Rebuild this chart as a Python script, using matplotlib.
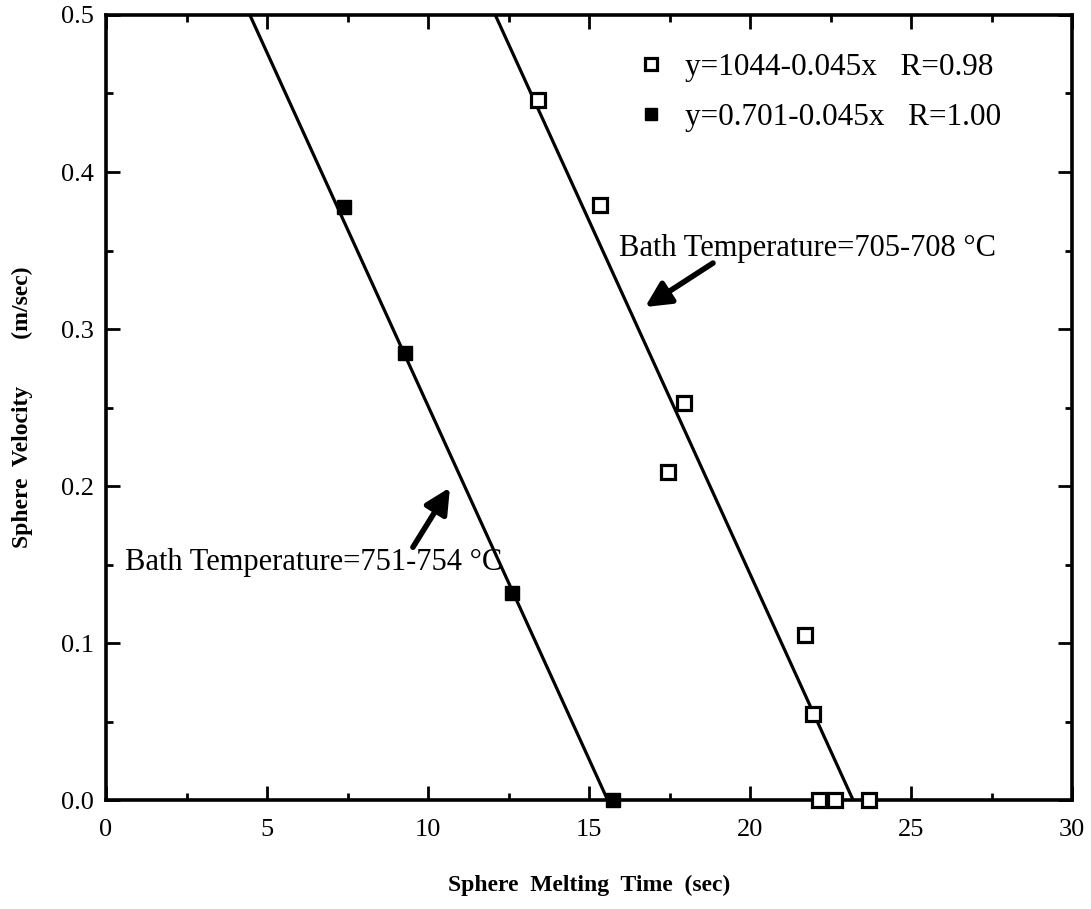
import matplotlib
matplotlib.use('Agg')
import numpy as np
import matplotlib.pyplot as plt
from matplotlib.ticker import MultipleLocator, FormatStrFormatter

# melting runs, bath at 705-708 C (open squares)
open_time = [13.4, 15.35, 17.45, 17.95, 21.7, 21.95, 22.15, 22.65, 23.7]
open_vel = [0.446, 0.379, 0.209, 0.253, 0.105, 0.055, 0.0, 0.0, 0.0]

# melting runs, bath at 751-754 C (filled squares)
filled_time = [7.4, 9.3, 12.6, 15.75]
filled_vel = [0.378, 0.285, 0.132, 0.0]

# linear fits  y = a - b*x
open_fit = (1.044, 0.045)
filled_fit = (0.701, 0.045)

open_label = 'y=1044-0.045x   R=0.98'
filled_label = 'y=0.701-0.045x   R=1.00'

serif = ['Liberation Serif', 'DejaVu Serif']

fig = plt.figure(figsize=(10.91, 9.09), dpi=100)
ax = fig.add_axes([0.0972, 0.1199, 0.8854, 0.8636])


def fit_line(fit):
    a, b = fit
    x = np.array([(a - 0.5) / b, a / b])
    return x, a - b * x


for fit in (filled_fit, open_fit):
    fx, fy = fit_line(fit)
    ax.plot(fx, fy, color='black', lw=2.3, solid_capstyle='butt', zorder=2)

ax.plot(open_time, open_vel, ls='none', marker='s', ms=9.5, mfc='white',
        mec='black', mew=2.3, clip_on=False, zorder=3, label=open_label)
ax.plot(filled_time, filled_vel, ls='none', marker='s', ms=10, mfc='black',
        mec='black', mew=1, clip_on=False, zorder=3, label=filled_label)

ax.set_xlim(0, 30)
ax.set_ylim(0, 0.5)
ax.xaxis.set_major_locator(MultipleLocator(5))
ax.xaxis.set_minor_locator(MultipleLocator(2.5))
ax.yaxis.set_major_locator(MultipleLocator(0.1))
ax.yaxis.set_minor_locator(MultipleLocator(0.05))
ax.yaxis.set_major_formatter(FormatStrFormatter('%.1f'))
ax.tick_params(which='both', direction='in', top=True, right=True, width=2)
ax.tick_params(which='major', length=10)
ax.tick_params(which='minor', length=5)
ax.tick_params(axis='x', which='major', pad=14)
ax.tick_params(axis='y', which='major', pad=9)
for lab in ax.get_xticklabels() + ax.get_yticklabels():
    lab.set_fontfamily(serif)
    lab.set_fontsize(19)
for sp in ax.spines.values():
    sp.set_linewidth(2.6)

ax.set_xlabel('Sphere  Melting  Time  (sec)', family=serif, fontsize=17,
              fontweight='bold', labelpad=24)
ax.set_ylabel('Sphere  Velocity        (m/sec)', family=serif, fontsize=17,
              fontweight='bold', labelpad=20)

leg = ax.legend(loc='upper left', bbox_to_anchor=(0.551, 0.952), frameon=False,
                prop={'family': serif, 'size': 22.5}, handlelength=0.8,
                handletextpad=0.7, labelspacing=0.67, markerscale=0.85,
                borderaxespad=0, borderpad=0)

# bath temperature annotations with thick arrows
ax.annotate('', xy=(16.74, 0.314), xytext=(18.85, 0.342),
            arrowprops=dict(arrowstyle='-|>', lw=4, color='black',
                            mutation_scale=38, shrinkA=0, shrinkB=0))
ax.text(15.93, 0.3515, 'Bath Temperature=705-708 °C', family=serif,
        fontsize=22, va='center', ha='left')

ax.annotate('', xy=(10.68, 0.199), xytext=(9.53, 0.161),
            arrowprops=dict(arrowstyle='-|>', lw=4, color='black',
                            mutation_scale=38, shrinkA=0, shrinkB=0))
ax.text(0.59, 0.151, 'Bath Temperature=751-754 °C', family=serif,
        fontsize=22, va='center', ha='left')

fig.savefig('out.png', dpi=100)
